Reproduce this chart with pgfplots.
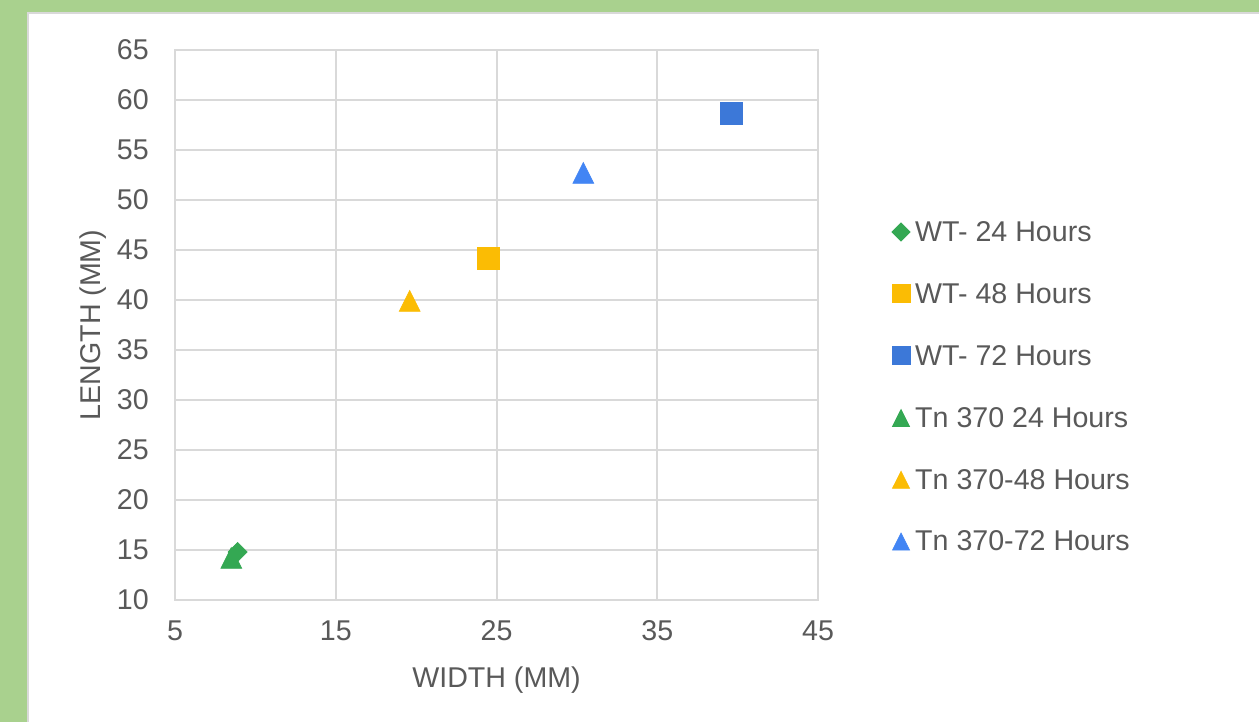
\documentclass[border=0pt]{standalone}
\usepackage{pgfplots}
\pgfplotsset{compat=1.18}
\usepackage{fontspec}
\setmainfont{Liberation Sans}

\definecolor{gGreen}{HTML}{34A853}
\definecolor{gYellow}{HTML}{FBBC04}
\definecolor{gDarkBlue}{HTML}{3C78D8}
\definecolor{gBlue}{HTML}{4285F4}
\definecolor{txtGrey}{HTML}{595959}
\definecolor{gridGrey}{HTML}{D9D9D9}
\definecolor{frameGreen}{HTML}{A9D18E}

\newcommand{\chartfont}{\fontsize{14.3bp}{16bp}\selectfont}

% marker-only series whose legend symbol is drawn at a given scale
\pgfplotsset{
  dot/.style={only marks,
    legend image code/.code={%
      \draw[##1, /tikz/every mark/.append style={scale=#1}] plot coordinates {(0pt,0pt)};}},
  dot/.default=0.82,
}

\begin{document}
\begin{tikzpicture}[x=0.5bp,y=0.5bp]
  % page frame: green margin, thin grey rule, white sheet
  \fill[frameGreen] (0,0) rectangle (1259,722);
  \fill[gridGrey] (27,0) rectangle (1259,710);
  \fill[white] (29,0) rectangle (1259,708);

  \begin{axis}[
    at={(87.5bp,61bp)}, anchor=south west,
    scale only axis, width=321.5bp, height=275bp,
    xmin=5, xmax=45, ymin=10, ymax=65,
    xtick={5,15,25,35,45},
    ytick={10,15,...,65},
    grid=major,
    major grid style={gridGrey, line width=1bp},
    axis line style={gridGrey, line width=1bp},
    major tick length=0pt,
    /pgf/number format/assume math mode=true,
    tick label style={font=\chartfont, text=txtGrey},
    yticklabel style={xshift=-9.6bp},
    xticklabel style={yshift=-6.8bp},
    label style={font=\chartfont, text=txtGrey},
    xlabel={WIDTH (MM)},
    ylabel={LENGTH (MM)},
    xlabel style={at={(axis description cs:0.5,-0.1455)}, anchor=center},
    ylabel style={at={(axis description cs:-0.1275,0.5)}, anchor=center},
    legend cell align=left,
    legend style={
      at={(axis description cs:1.1151,0.3882)}, anchor=west,
      draw=none, fill=none, inner sep=0pt, outer sep=0pt,
      row sep=18.9bp, column sep=2.6bp,
      nodes={inner sep=0pt, text height=11bp, text depth=1bp,
             font=\chartfont, text=txtGrey},
    },
  ]
    % wild type
    \addplot[dot=0.95, mark=square*, mark size=3.36pt, color=gGreen,
      mark options={rotate=45, fill=gGreen, draw=gGreen, line width=0.4pt}]
      coordinates {(8.9,14.8)};
    \addlegendentry{WT- 24 Hours}
    \addplot[dot, mark=square*, mark size=5.5pt, color=gYellow,
      mark options={fill=gYellow, draw=gYellow, line width=0.4pt}]
      coordinates {(24.5,44.2)};
    \addlegendentry{WT- 48 Hours}
    \addplot[dot, mark=square*, mark size=5.5pt, color=gDarkBlue,
      mark options={fill=gDarkBlue, draw=gDarkBlue, line width=0.4pt}]
      coordinates {(39.6,58.7)};
    \addlegendentry{WT- 72 Hours}
    % Tn 370 mutant
    \addplot[dot, mark=triangle*, mark size=6pt, color=gGreen,
      mark options={fill=gGreen, draw=gGreen, line width=0.4pt, yscale=1.15, yshift=-1.5bp}]
      coordinates {(8.5,14.2)};
    \addlegendentry{Tn 370 24 Hours}
    \addplot[dot, mark=triangle*, mark size=6pt, color=gYellow,
      mark options={fill=gYellow, draw=gYellow, line width=0.4pt, yscale=1.15, yshift=-1.5bp}]
      coordinates {(19.6,39.9)};
    \addlegendentry{Tn 370-48 Hours}
    \addplot[dot, mark=triangle*, mark size=6pt, color=gBlue,
      mark options={fill=gBlue, draw=gBlue, line width=0.4pt, yscale=1.15, yshift=-1.5bp}]
      coordinates {(30.4,52.7)};
    \addlegendentry{Tn 370-72 Hours}
  \end{axis}
\end{tikzpicture}
\end{document}
